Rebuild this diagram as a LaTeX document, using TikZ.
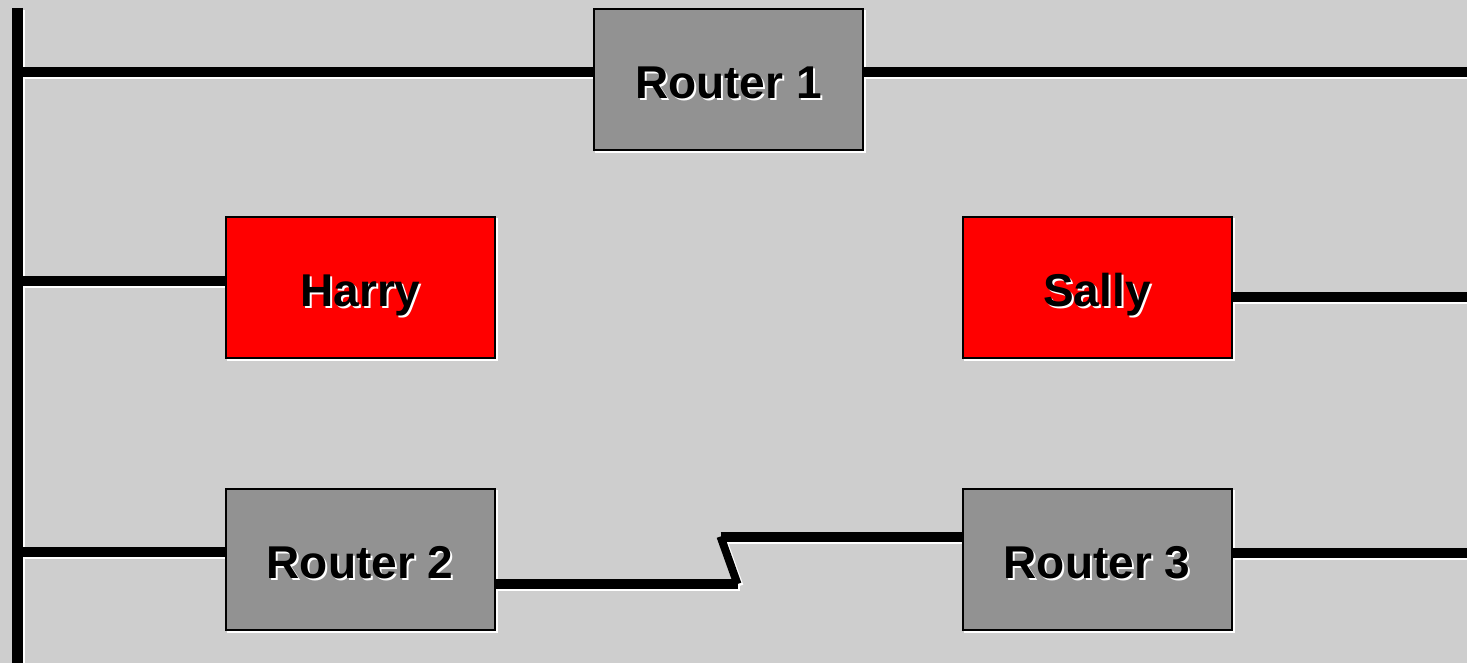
\documentclass[tikz,border=0pt]{standalone}
\usepackage{fontspec}
\setmainfont{Liberation Sans}
\definecolor{bgc}{RGB}{206,206,206}
\definecolor{boxgray}{RGB}{146,146,146}
\pgfdeclarelayer{shadowlayer}
\pgfdeclarelayer{bglayer}
\pgfsetlayers{bglayer,shadowlayer,main}
\tikzset{
  wire/.style={line width=10pt, black},
  wireshadow/.style={line width=10pt, white},
  devbox/.style={draw=black, line width=2pt, minimum width=269pt, minimum height=141pt, inner sep=0pt, outer sep=1pt},
  lbl/.style={font=\fontsize{46}{46}\selectfont\bfseries, inner sep=0pt, text height=34pt, text depth=0pt},
}
\newcommand\shline[3][]{%
  \begin{pgfonlayer}{shadowlayer}\draw[wireshadow,#1] ([shift={(2,2)}]#2) -- ([shift={(2,2)}]#3);\end{pgfonlayer}%
  \draw[wire,#1] (#2) -- (#3);}
\newcommand\devnode[4]{% name, position, fill, text
  \fill[white] ([shift={(2,2)}]#2) ++(-135.5,-71.5) rectangle ++(271,143);
  \node[devbox, fill=#3] (#1) at (#2) {};
  \node[lbl, white] (#1ts) at ([shift={(2,4)}]#2) {#4};
  \node[lbl, black] (#1t) at ([shift={(0,2)}]#2) {#4};}
\begin{document}
\begin{tikzpicture}[x=1pt,y=-1pt]
\useasboundingbox (0,0) rectangle (1467,663);
\begin{pgfonlayer}{bglayer}
\fill[bgc] (0,0) rectangle (1467,663);
\end{pgfonlayer}

% bus coordinates
\coordinate (bustop) at (17.5,8);
\coordinate (busbot) at (17.5,663);
\coordinate (b1) at (17.5,72.3);
\coordinate (b2) at (17.5,280.5);
\coordinate (b3) at (17.5,552);
\coordinate (e1) at (1467,72.3);
\coordinate (e2) at (1467,296.5);
\coordinate (e3) at (1467,553);
\coordinate (z1) at (737.5,584);
\coordinate (z2) at (720.5,536.5);

% devices
\devnode{r1}{728.5,79.5}{boxgray}{Router 1}
\devnode{harry}{360.5,287.5}{red}{Harry}
\devnode{sally}{1097,287.5}{red}{Sally}
\devnode{r2}{360,559.5}{boxgray}{Router 2}
\devnode{r3}{1097,559.5}{boxgray}{Router 3}

% bus
\shline[line width=11pt]{bustop}{busbot}
% connectors
\shline{b1}{b1 -| r1.west}
\shline{r1.east |- b1}{e1}
\shline{b2}{b2 -| harry.west}
\shline{sally.east |- e2}{e2}
\shline{b3}{b3 -| r2.west}
\shline{r3.east |- e3}{e3}
\shline{r2.east |- z1}{z1}
\shline[line width=8pt]{z1}{z2}
\shline{z2}{z2 -| r3.west}
\end{tikzpicture}
\end{document}
